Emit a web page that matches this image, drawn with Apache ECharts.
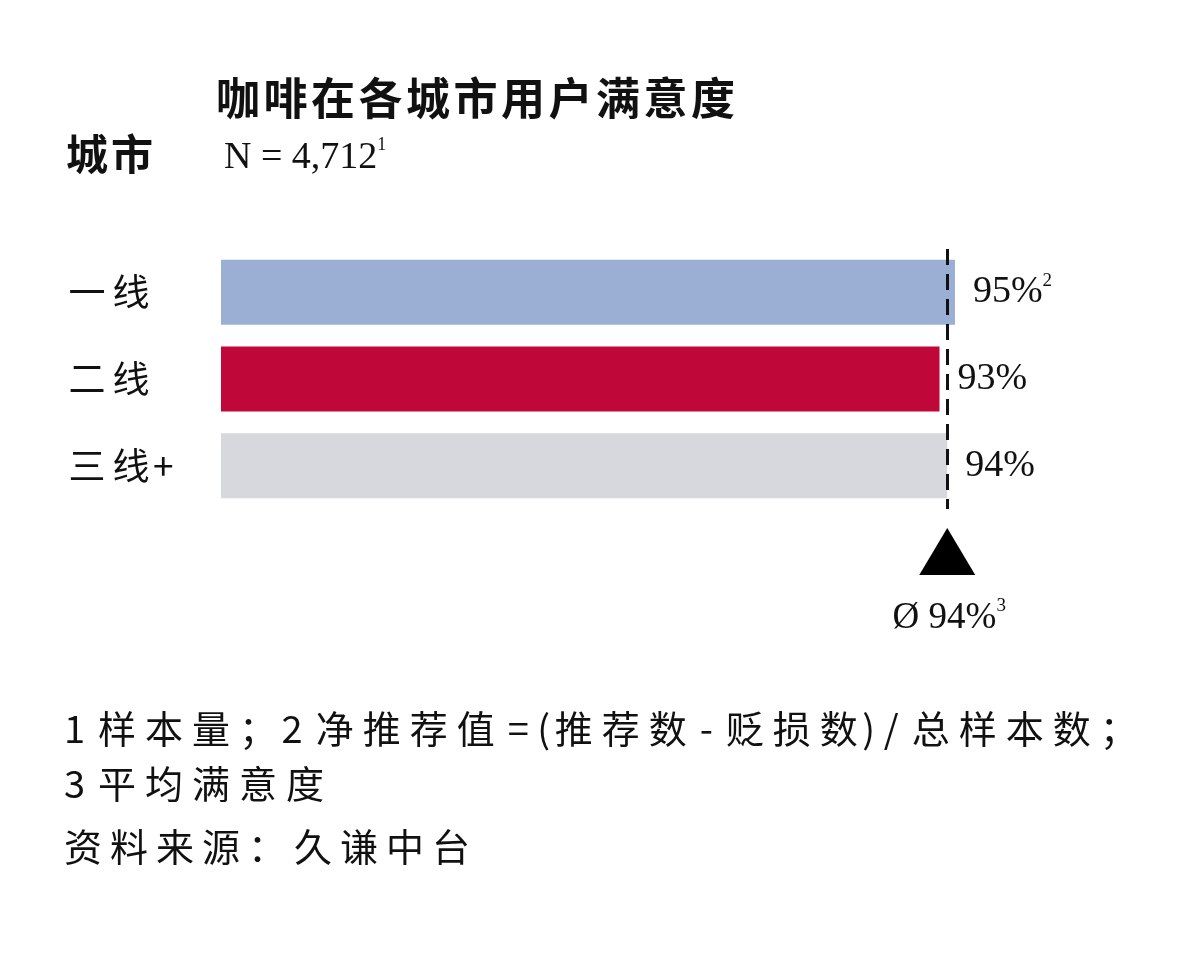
<!DOCTYPE html>
<html><head><meta charset="utf-8">
<script src="https://cdn.jsdelivr.net/npm/echarts@6/dist/echarts.min.js"></script>
<style>html,body{margin:0;padding:0;background:#fff}#c{width:1200px;height:957px}</style>
</head><body><div id="c"></div>
<script>
const categories = ['一线', '二线', '三线+'];
const values = [95, 93, 94];
const valueNotes = ['2', '', ''];
const average = 94;
const averageNote = '3';
const sampleSize = '4,712';
const sampleNote = '1';
const titleText = '咖啡在各城市用户满意度';
const axisTitle = '城市';
const footnotes = ['1 样本量；2 净推荐值 = (推荐数 - 贬损数) / 总样本数；', '3 平均满意度', '资料来源：久谦中台'];
const barColors = ['#9AAFD3', '#C0073A', '#D6D8DE'];

const CJK = '"Noto Sans CJK SC", sans-serif';
const SERIF = '"Liberation Serif", "DejaVu Serif", serif';

// letter-spaced rich text: wide (CJK) characters get side padding, ASCII runs stay tight
function spaced(text) {
  let out = '', run = '';
  for (const ch of Array.from(text)) {
    if (ch.charCodeAt(0) < 128) { run += ch; continue; }
    if (run) { out += '{l|' + run + '}'; run = ''; }
    out += '{k|' + ch + '}';
  }
  if (run) out += '{l|' + run + '}';
  return out;
}
function spacedRich(size, gap, weight) {
  const base = { fontFamily: CJK, fontSize: size, fontWeight: weight || 'normal', color: '#111', fill: '#111' };
  return { k: Object.assign({ padding: [0, gap / 2, 0, gap / 2] }, base), l: Object.assign({}, base) };
}

const chart = echarts.init(document.getElementById('c'));
chart.setOption({
  backgroundColor: '#ffffff',
  animation: false,
  grid: { left: 221, top: 249, height: 260, width: 772.6 },
  xAxis: { type: 'value', min: 0, max: 100, show: false },
  yAxis: {
    type: 'category', data: categories, inverse: true,
    axisLine: { show: false }, axisTick: { show: false }, splitLine: { show: false },
    axisLabel: { align: 'left', margin: 156, formatter: v => spaced(v), rich: spacedRich(37, 7) }
  },
  series: [{
    type: 'bar', barWidth: 65,
    data: values.map((v, i) => ({ value: v, itemStyle: { color: barColors[i] } })),
    label: {
      show: true, position: 'right', distance: 18,
      formatter: p => '{v|' + p.value + '%}' + (valueNotes[p.dataIndex] ? '{s|' + valueNotes[p.dataIndex] + '}' : ''),
      rich: {
        v: { fontFamily: SERIF, fontSize: 38, color: '#111', lineHeight: 42 },
        s: { fontFamily: SERIF, fontSize: 19, color: '#111', verticalAlign: 'top', lineHeight: 42, padding: [0, 0, 14, 0] }
      }
    },
    markLine: {
      silent: true, symbol: 'none', label: { show: false },
      lineStyle: { type: [16, 9], color: '#111', width: 3 },
      data: [{ xAxis: average }]
    }
  }]
});

const px = chart.convertToPixel({ gridIndex: 0 }, [average, 0])[0];
const gridBottom = 249 + 260;
chart.setOption({
  graphic: [
    { type: 'text', left: 216, top: 76, style: { text: spaced(titleText), rich: spacedRich(44, 3.5, 'bold') } },
    { type: 'text', left: 66, top: 133, style: { text: spaced(axisTitle), rich: spacedRich(42, 3, 'bold') } },
    { type: 'text', left: 224, top: 136, style: {
        text: '{a|N = ' + sampleSize + '}{s|' + sampleNote + '}',
        rich: { a: { fontFamily: SERIF, fontSize: 38, fill: '#111', lineHeight: 44 },
                s: { fontFamily: SERIF, fontSize: 18, fill: '#111', lineHeight: 44, verticalAlign: 'top', padding: [0, 0, 16, 0] } } } },
    { type: 'polygon', shape: { points: [[px, gridBottom + 19], [px - 28, gridBottom + 66], [px + 28, gridBottom + 66]] }, style: { fill: '#000' } },
    { type: 'text', x: px + 2, y: gridBottom + 88, style: {
        text: '{a|Ø ' + average + '%}{s|' + averageNote + '}', align: 'center',
        rich: { a: { fontFamily: SERIF, fontSize: 37, fill: '#111', lineHeight: 42 },
                s: { fontFamily: SERIF, fontSize: 19, fill: '#111', lineHeight: 42, verticalAlign: 'top', padding: [0, 0, 14, 0] } } } },
    { type: 'text', left: 64, top: 710, style: { text: spaced(footnotes[0]), rich: spacedRich(38, 9) } },
    { type: 'text', left: 64, top: 765, style: { text: spaced(footnotes[1]), rich: spacedRich(38, 9) } },
    { type: 'text', left: 64, top: 828, style: { text: spaced(footnotes[2]), rich: spacedRich(38, 8) } }
  ]
});
</script></body></html>
